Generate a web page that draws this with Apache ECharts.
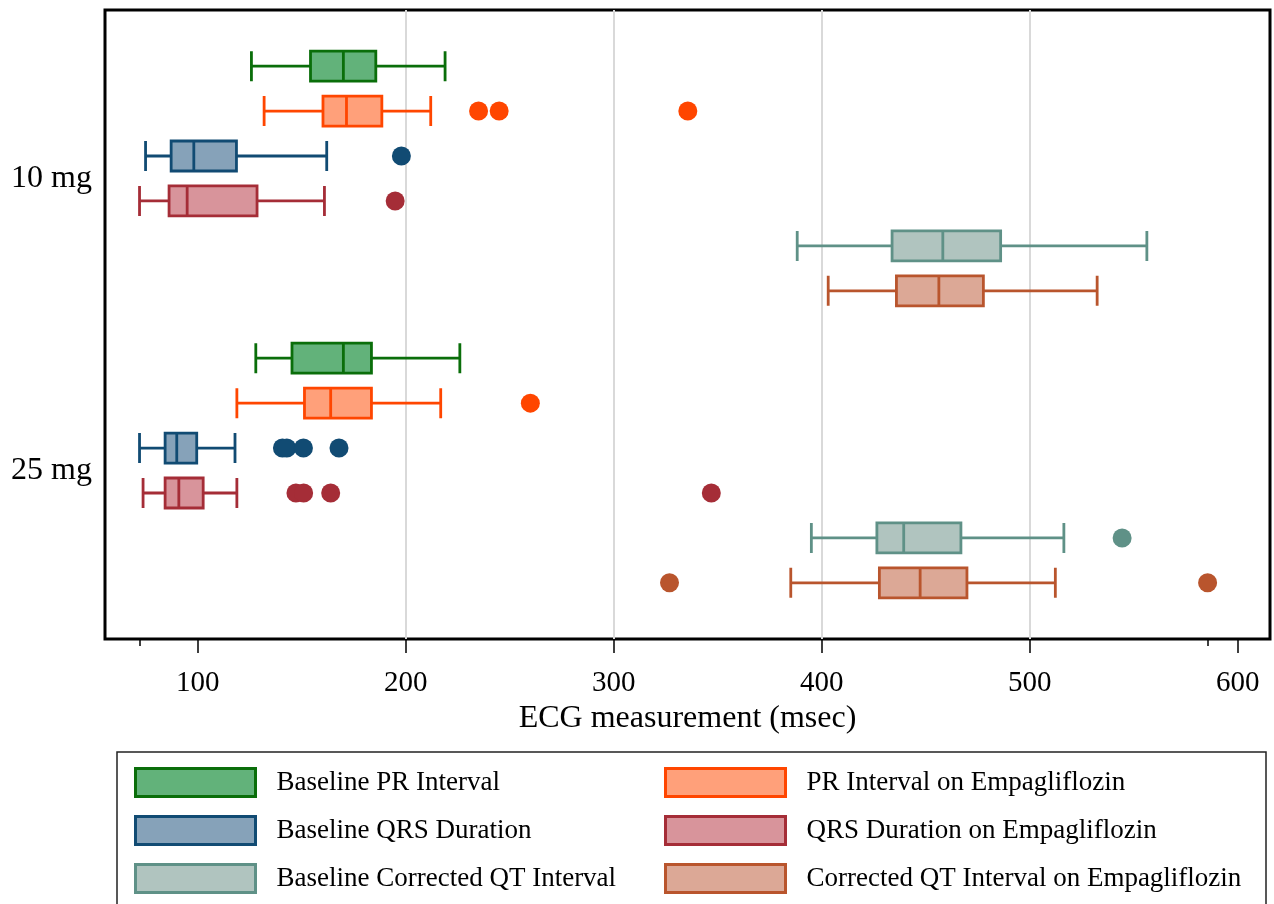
<!DOCTYPE html>
<html><head><meta charset="utf-8">
<script src="https://cdn.jsdelivr.net/npm/echarts@6/dist/echarts.min.js"></script>
<style>html,body{margin:0;padding:0;background:#fff}#c{width:1274px;height:904px}</style>
</head><body><div id="c"></div>
<script>
// ---------- data ----------
const groups = ['10 mg', '25 mg'];
const seriesNames = [
  'Baseline PR Interval',
  'PR Interval on Empagliflozin',
  'Baseline QRS Duration',
  'QRS Duration on Empagliflozin',
  'Baseline Corrected QT Interval',
  'Corrected QT Interval on Empagliflozin'
];
// [min, Q1, median, Q3, max] for 10 mg and 25 mg
const prBaseline  = [[125.8, 154.2, 170.0, 185.6, 218.9], [127.9, 145.3, 170.0, 183.5, 226.0]];
const prEmpa      = [[131.9, 160.2, 171.5, 188.5, 212.0], [118.8, 151.3, 163.9, 183.5, 216.8]];
const qrsBaseline = [[74.9, 87.2, 98.1, 118.6, 162.0], [72.0, 84.3, 89.9, 99.5, 117.9]];
const qrsEmpa     = [[72.0, 86.2, 94.9, 128.5, 160.9], [73.7, 84.3, 90.9, 102.6, 118.8]];
const qtcBaseline = [[388.2, 433.8, 458.2, 486.0, 556.3], [395.0, 426.5, 439.4, 466.9, 516.4]];
const qtcEmpa     = [[403.1, 435.9, 456.3, 477.7, 532.4], [385.1, 427.7, 447.3, 469.8, 512.3]];
// outliers for 10 mg and 25 mg
const prBaselineOut  = [[], []];
const prEmpaOut      = [[235.0, 244.9, 335.6], [259.9]];
const qrsBaselineOut = [[197.9], [140.7, 142.8, 150.8, 167.9]];
const qrsEmpaOut     = [[194.9], [147.2, 150.9, 163.9, 346.9]];
const qtcBaselineOut = [[], [544.4]];
const qtcEmpaOut     = [[], [326.8, 585.5]];
const xTicks = [100, 200, 300, 400, 500, 600];
const xTitle = 'ECG measurement (msec)';

// ---------- style ----------
const fillColors = ['#62b27a', '#ffa07a', '#86a2b9', '#d8949b', '#b0c4bf', '#dca896'];
const lineColors = ['#0a6e0a', '#ff4600', '#114b73', '#a52d37', '#5f9187', '#b9552d'];
const FONT = 'Liberation Serif';

// ---------- build ----------
const boxes = [prBaseline, prEmpa, qrsBaseline, qrsEmpa, qtcBaseline, qtcEmpa];
const outliers = [prBaselineOut, prEmpaOut, qrsBaselineOut, qrsEmpaOut, qtcBaselineOut, qtcEmpaOut];
const N = boxes.length, PAD = 2, STEP = 2 * N + 1;
const SLOTS = PAD * 2 + (groups.length - 1) * STEP + 2 * (N - 1) + 1;
const slot = (g, s) => PAD + g * STEP + 2 * s;
const slotCats = Array.from({length: SLOTS}, (_, i) => String(i));
const labelAt = {};
groups.forEach((g, gi) => { labelAt[PAD + gi * STEP + (N - 1)] = g; });

let allVals = [];
boxes.forEach(b => b.forEach(r => allVals = allVals.concat(r)));
outliers.forEach(o => o.forEach(r => allVals = allVals.concat(r)));
const dataMin = Math.min.apply(null, allVals);
const dataMax = Math.max.apply(null, allVals);

const yAxis = boxes.map((_, i) => ({
  type: 'category', gridIndex: 0, data: slotCats, inverse: true, show: i === 0,
  position: 'left',
  axisLine: {show: false}, axisTick: {show: false}, splitLine: {show: false},
  axisLabel: {interval: 0, formatter: (v, idx) => labelAt[idx] || '', fontSize: 32,
    color: '#000', fontFamily: FONT, margin: 13}
}));

const series = [];
boxes.forEach((b, i) => {
  const data = slotCats.map(() => ['-', '-', '-', '-', '-']);
  b.forEach((st, g) => { data[slot(g, i)] = st.slice(); });
  series.push({
    type: 'boxplot', name: seriesNames[i], xAxisIndex: 0, yAxisIndex: i, data,
    boxWidth: [30, 30], silent: true, z: 2,
    itemStyle: {color: fillColors[i], borderColor: lineColors[i], borderWidth: 2.8},
    emphasis: {disabled: true}
  });
  const pts = [];
  outliers[i].forEach((arr, g) => arr.forEach(v => pts.push([v, slot(g, i)])));
  series.push({
    type: 'scatter', name: seriesNames[i], xAxisIndex: 0, yAxisIndex: i, data: pts,
    symbol: 'circle', symbolSize: 19, silent: true, z: 3,
    itemStyle: {color: lineColors[i], opacity: 1}
  });
});

const legendCol = (idxs, left) => ({
  orient: 'vertical', left, top: 767, padding: 0, height: 200,
  itemWidth: 120, itemHeight: 28, itemGap: 17,
  icon: 'rect', selectedMode: false,
  data: idxs.map(i => ({name: seriesNames[i],
    itemStyle: {color: fillColors[i], borderColor: lineColors[i], borderWidth: 3}})),
  textStyle: {fontFamily: FONT, fontSize: 27, lineHeight: 28, color: '#000', padding: [0, 0, 0, 16]}
});

const option = {
  animation: false,
  backgroundColor: '#fff',
  textStyle: {fontFamily: FONT},
  grid: {left: 105, right: 4, top: 10, height: 629, show: true, borderColor: '#000',
    borderWidth: 3, backgroundColor: 'transparent', containLabel: false, outerBoundsMode: 'none'},
  xAxis: [
    {type: 'value', min: 55.4, max: 615.5, position: 'bottom',
      axisLine: {show: false},
      axisTick: {show: true, length: 14, customValues: xTicks, lineStyle: {color: '#000', width: 1.5}},
      axisLabel: {customValues: xTicks, fontSize: 29, margin: 30, color: '#000', fontFamily: FONT},
      splitLine: {show: true, showMinLine: false, showMaxLine: false, lineStyle: {color: '#d9d9d9', width: 2}},
      name: xTitle, nameLocation: 'middle', nameGap: 63,
      nameTextStyle: {fontSize: 32, color: '#000', fontFamily: FONT}},
    {type: 'value', min: 55.4, max: 615.5, position: 'bottom',
      axisLine: {show: false},
      axisTick: {show: true, length: 7, customValues: [dataMin, dataMax], lineStyle: {color: '#000', width: 1.5}},
      axisLabel: {show: false}, splitLine: {show: false}}
  ],
  yAxis,
  legend: [legendCol([0, 2, 4], 134), legendCol([1, 3, 5], 664)],
  graphic: [{type: 'rect', silent: true, z: 10,
    shape: {x: 117, y: 752, width: 1149, height: 200},
    style: {fill: 'none', stroke: '#222', lineWidth: 1.5}}],
  series
};
const chart = echarts.init(document.getElementById('c'), null, {renderer: 'canvas'});
chart.setOption(option);
</script></body></html>
